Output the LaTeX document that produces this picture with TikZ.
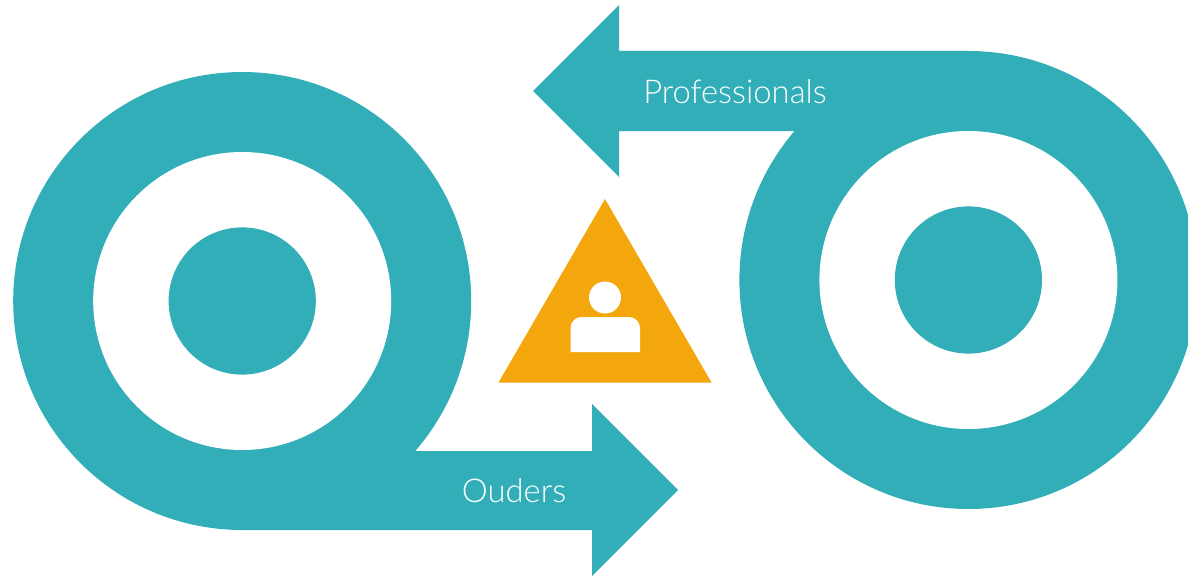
\documentclass[tikz,border=0pt]{standalone}
\usepackage{fontspec}
\newfontfamily\labelfont{Lato Light}
\definecolor{loopteal}{RGB}{50,174,185}
\definecolor{warnorange}{RGB}{243,167,13}
\tikzset{
	loopfill/.style={fill=loopteal},
	holefill/.style={fill=white},
	looplabel/.style={text=white,font=\labelfont\fontsize{32.8}{33}\selectfont,inner sep=0pt}
}
\begin{document}
\begin{tikzpicture}[x=1pt,y=-1pt]
			\useasboundingbox (0,0) rectangle (1188,578);
			\clip (0,0) rectangle (1188,578);
			\coordinate (ouderscentre) at (242.2,301);
			\coordinate (profcentre) at (968.4,280);
			% left loop
			\fill[loopfill] (ouderscentre) circle (229);
			\fill[loopfill] (242,530) -- (592,530) -- (592,576) -- (678,490) -- (592,404) -- (592,451) -- (416,451) -- (300,400) -- cycle;
			\fill[holefill] (ouderscentre) circle (149);
			\fill[loopfill] (ouderscentre) circle (73.6);
			% right loop
			\fill[loopfill] (profcentre) circle (229);
			\fill[loopfill] (968,51) -- (619,51) -- (619,5) -- (533,91) -- (619,177) -- (619,131) -- (795,131) -- (900,180) -- cycle;
			\fill[holefill] (profcentre) circle (149);
			\fill[loopfill] (profcentre) circle (73.6);
			% triangle with person
			\fill[warnorange] (605,199) -- (711.5,382.5) -- (498.5,382.5) -- cycle;
			\fill[holefill] (605,297.5) circle (16);
			\fill[holefill] (570.5,352) -- (570.5,328) arc (180:270:11) -- (629,317) arc (270:360:11) -- (640,352) -- cycle;
			\node[looplabel] (ouders) at (514,491) {Ouders};
			\node[looplabel] (professionals) at (735,92) {Professionals};
		\end{tikzpicture}
\end{document}
